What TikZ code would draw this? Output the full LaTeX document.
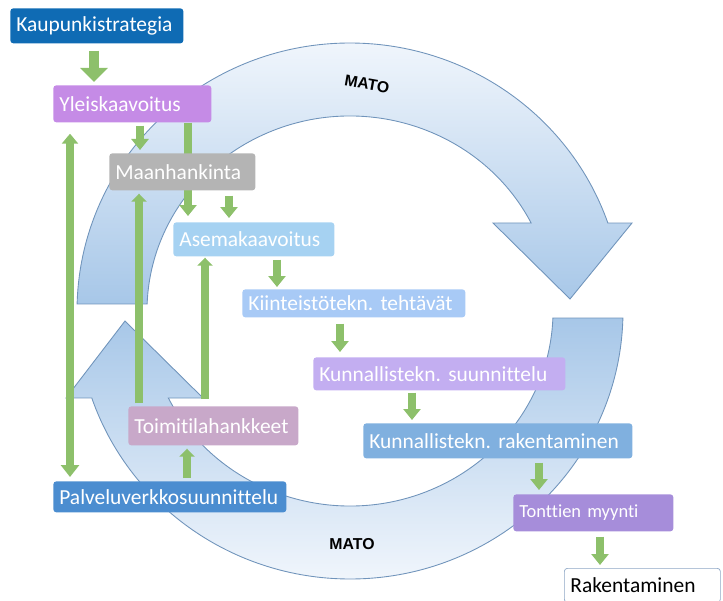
\documentclass[tikz,border=0pt]{standalone}
\usepackage{fontspec}
\newfontfamily\boxfont[Ligatures=NoCommon]{Carlito}
\newfontfamily\matofont{Liberation Sans}
\usetikzlibrary{arrows.meta,calc}
\frenchspacing
\definecolor{kaupblue}{HTML}{0F6BB4}
\definecolor{yleisviolet}{HTML}{C58BE6}
\definecolor{maangray}{HTML}{B4B4B4}
\definecolor{asemablue}{HTML}{A6D2F2}
\definecolor{kiintblue}{HTML}{A8CAF6}
\definecolor{kunnsviolet}{HTML}{C3AEF1}
\definecolor{kunnrblue}{HTML}{80B0DF}
\definecolor{tonttviolet}{HTML}{A68DDA}
\definecolor{toimimauve}{HTML}{C8A8C9}
\definecolor{palveblue}{HTML}{4B8DD0}
\definecolor{rakborder}{HTML}{8EA7C6}
\definecolor{arrowgreen}{HTML}{8DC06B}
\definecolor{ringedge}{HTML}{7094BB}
\definecolor{ringlight}{HTML}{F1F6FC}
\definecolor{ringdark}{HTML}{A7C7E8}
\pgfdeclarelayer{ring}
\pgfdeclarelayer{links}
\pgfsetlayers{ring,links,main}
\tikzset{
  stepbox/.style={anchor=north west,rounded corners=0.6mm,inner xsep=1.2mm,inner ysep=0pt,
    align=left,text=white,font=\boxfont\fontsize{12.2}{14}\selectfont,
    execute at begin node={\hyphenpenalty=10000\relax}},
  ringarrow/.style={draw=ringedge,line width=0.5pt},
  matolabel/.style={font=\matofont\bfseries\fontsize{9}{10}\selectfont},
  flowarrow/.style={draw=arrowgreen,line width=1.7mm,-{Triangle[width=3.4mm,length=2.2mm]}},
  bigarrow/.style={draw=arrowgreen,line width=2mm,-{Triangle[width=5.4mm,length=2.8mm]}},
  backarrow/.style={draw=arrowgreen,line width=1.6mm,-{Triangle[width=3mm,length=1.6mm]}},
}
\begin{document}
\begin{tikzpicture}[x=0.2mm,y=-0.2mm]
\clip (0,0) rectangle (723,600);
\coordinate (ctr) at (350,311);

\begin{pgfonlayer}{ring}
\draw[ringarrow,top color=ringlight,bottom color=ringdark]
  ($(ctr)+(181.5:273 and 268)$) arc[start angle=181.5,end angle=340.83,x radius=273,y radius=268]
  -- (632,223) -- (570,299) -- (493,223)
  -- ($(ctr)+(333.17:203 and 195)$) arc[start angle=333.17,end angle=182.06,x radius=203,y radius=195]
  -- cycle;
\draw[ringarrow,top color=ringdark,bottom color=ringlight]
  ($(ctr)+(1.5:273 and 268)$) arc[start angle=1.5,end angle=161.06,x radius=273,y radius=268]
  -- (66,398) -- (125,321) -- (203,398)
  -- ($(ctr)+(153.5:203 and 195)$) arc[start angle=153.5,end angle=2.06,x radius=203,y radius=195]
  -- cycle;
\end{pgfonlayer}

\node[matolabel,rotate=-10] (matotop) at (367,84) {MATO};
\node[matolabel] (matobottom) at (352,544) {MATO};

\node[stepbox,fill=kaupblue,text width=32.2mm,minimum height=7mm] (kaup) at (10,8) {Kaupunkistrategia};
\node[stepbox,fill=yleisviolet,text width=29.2mm,minimum height=7.4mm] (yleis) at (53,85) {Yleiskaavoitus};
\node[stepbox,fill=maangray,text width=26.8mm,minimum height=7.4mm] (maan) at (109,153) {Maanhankinta};
\node[stepbox,fill=asemablue,text width=29.8mm,minimum height=6.8mm] (asema) at (173,222) {Asemakaavoitus};
\node[stepbox,fill=kiintblue,text width=42.2mm,minimum height=5.6mm] (kiint) at (242,289) {Kiinteistötekn. tehtävät};
\node[stepbox,fill=kunnsviolet,text width=48mm,minimum height=6.6mm] (kunns) at (313,357) {Kunnallistekn. suunnittelu};
\node[stepbox,fill=kunnrblue,text width=51.4mm,minimum height=7mm] (kunnr) at (363,423) {Kunnallistekn. rakentaminen};
\node[stepbox,fill=tonttviolet,text width=29.6mm,minimum height=7.4mm,font=\boxfont\fontsize{10.5}{12}\selectfont] (tontt) at (513,494) {Tonttien myynti};
\node[stepbox,fill=white,draw=rakborder,text=black,text width=28.8mm,minimum height=6.8mm] (rak) at (564,568) {Rakentaminen};
\node[stepbox,fill=toimimauve,text width=31.6mm,minimum height=7.8mm] (toimi) at (128,406) {Toimitilahankkeet};
\node[stepbox,fill=palveblue,text width=44.2mm,minimum height=6.2mm] (palve) at (53,481) {Palveluverkkosuunnittelu};

\begin{pgfonlayer}{links}
\draw[bigarrow,shorten <=1.4mm,shorten >=0.6mm] (kaup.south -| 94,0) -- (yleis.north -| 94,0);
\draw[flowarrow,shorten <=0.6mm,shorten >=0.6mm] (yleis.south -| 140,0) -- (maan.north -| 140,0);
\draw[flowarrow,shorten >=1.2mm] (yleis.south -| 188,0) -- (asema.north -| 188,0);
\draw[flowarrow,shorten <=1mm,shorten >=0.8mm] (maan.south -| 229,0) -- (asema.north -| 229,0);
\draw[flowarrow,shorten <=0.6mm,shorten >=0.4mm] (asema.south -| 277,0) -- (kiint.north -| 277,0);
\draw[flowarrow,shorten <=1.2mm,shorten >=1mm] (kiint.south -| 340,0) -- (kunns.north -| 340,0);
\draw[flowarrow,shorten <=0.4mm,shorten >=0.6mm] (kunns.south -| 412,0) -- (kunnr.north -| 412,0);
\draw[flowarrow,shorten <=0.8mm,shorten >=0.8mm] (kunnr.south -| 539,0) -- (tontt.north -| 539,0);
\draw[flowarrow,shorten <=1mm,shorten >=0.6mm] (tontt.south -| 600,0) -- (rak.north -| 600,0);
\draw[backarrow,{Triangle[width=3.2mm,length=2mm]}-{Triangle[width=3.6mm,length=2.4mm]},shorten <=2.2mm,shorten >=0.8mm] (yleis.south -| 70,0) -- (palve.north -| 70,0);
\draw[backarrow,shorten <=0.6mm,shorten >=0.6mm] (toimi.north -| 139,0) -- (maan.south -| 139,0);
\draw[backarrow,shorten <=1.4mm,shorten >=0.2mm] (toimi.north -| 205,0) -- (asema.south -| 205,0);
\draw[backarrow,shorten <=0.6mm,shorten >=0.6mm] (palve.north -| 187,0) -- (toimi.south -| 187,0);
\end{pgfonlayer}

\end{tikzpicture}
\end{document}
